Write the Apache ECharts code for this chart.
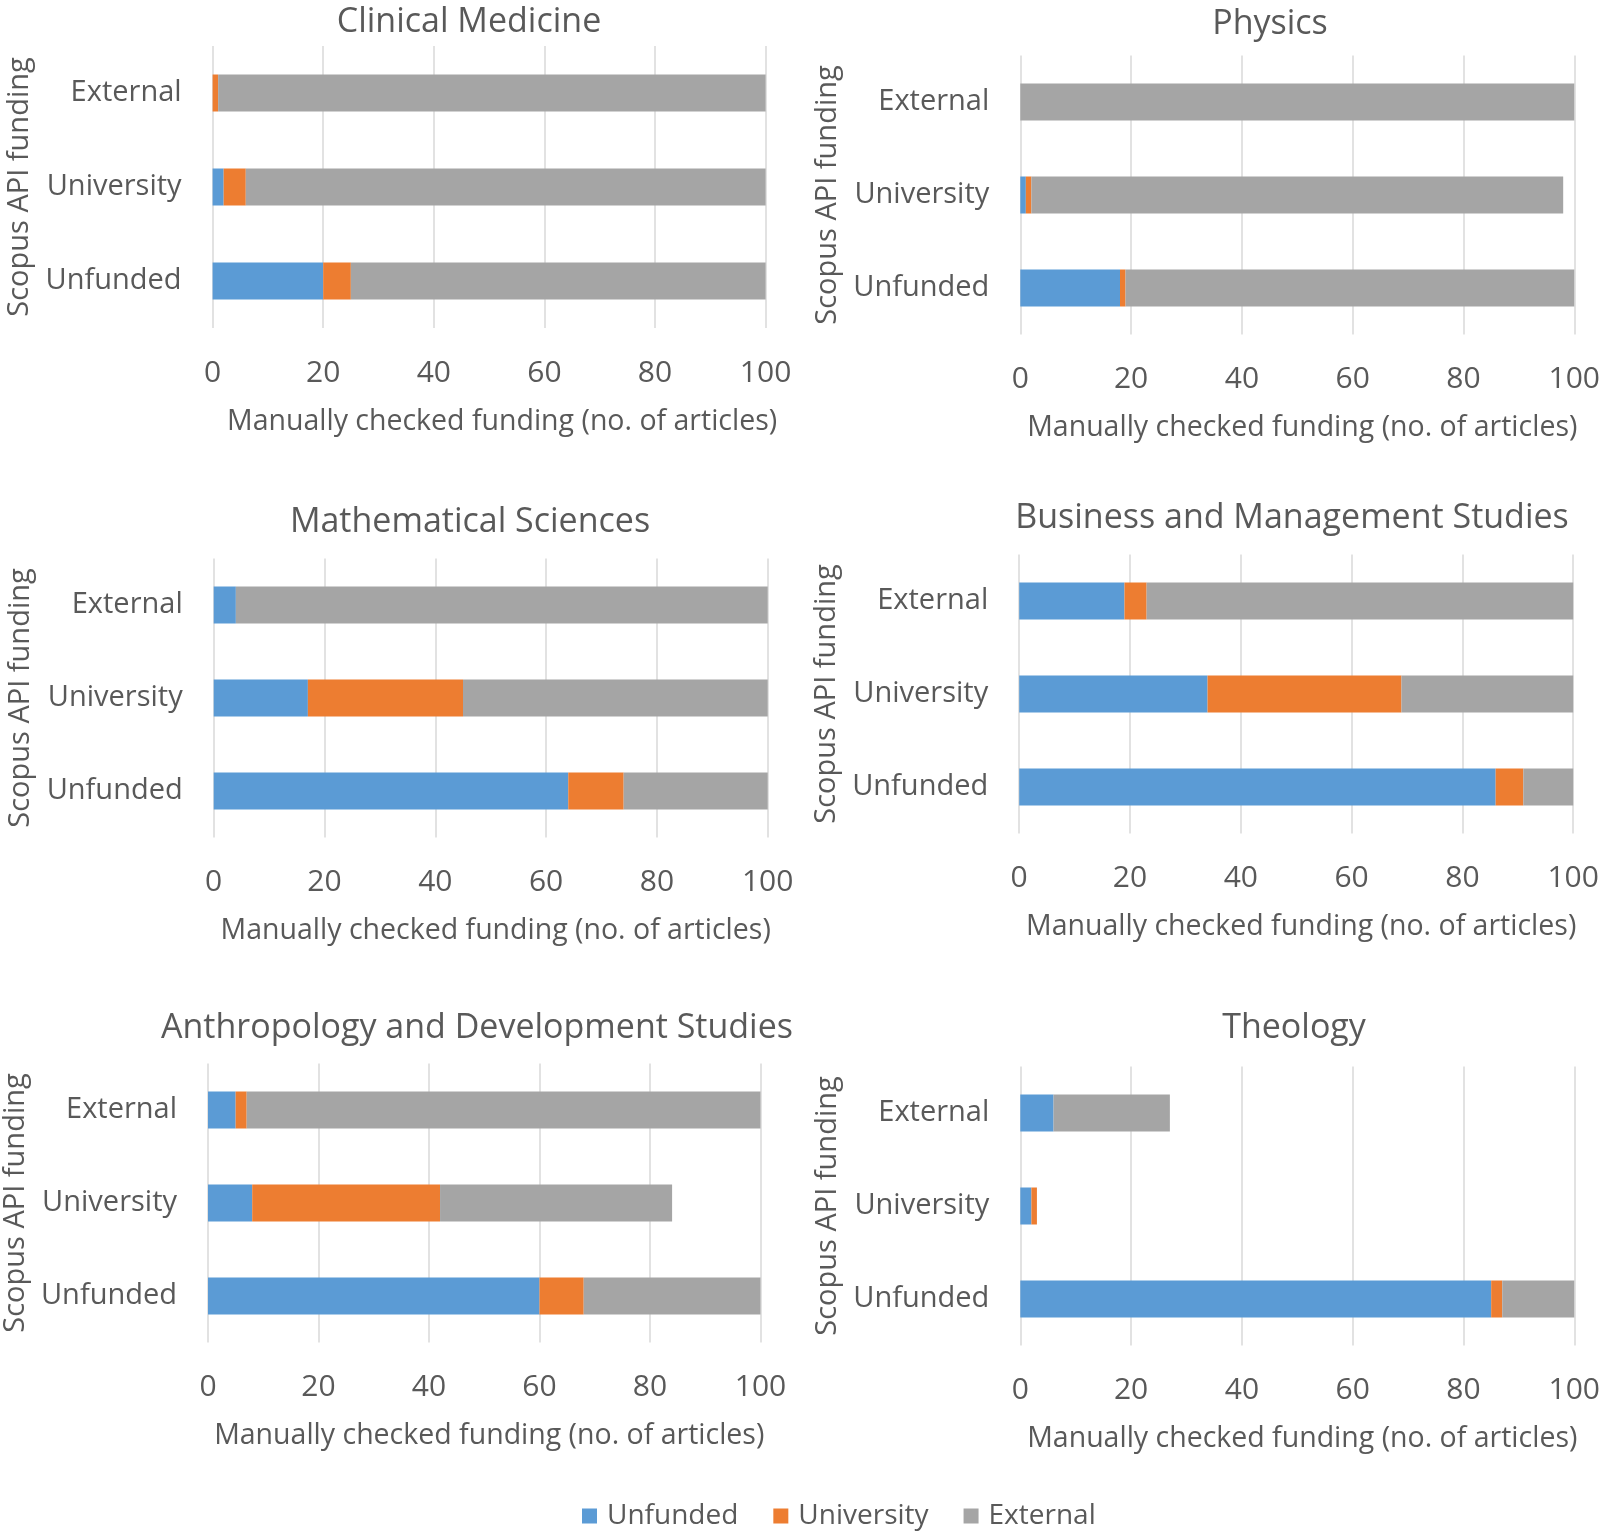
<!DOCTYPE html>
<html><head><meta charset="utf-8">
<script src="https://cdn.jsdelivr.net/npm/echarts@6/dist/echarts.min.js"></script>
<style>html,body{margin:0;padding:0;background:#fff}#c{width:1603px;height:1535px}</style>
</head><body><div id="c"></div>
<script>
// ---- data ----
const categories = ['Unfunded', 'University', 'External'];
const seriesNames = ['Unfunded', 'University', 'External'];
const xTicks = [0, 20, 40, 60, 80, 100];
const panelTitles = ['Clinical Medicine', 'Physics', 'Mathematical Sciences',
  'Business and Management Studies', 'Anthropology and Development Studies', 'Theology'];
const xAxisTitle = 'Manually checked funding (no. of articles)';
const yAxisTitle = 'Scopus API funding';

// values per category: [Unfunded row, University row, External row]
const clinicalUnfunded = [20, 2, 0];
const clinicalUniversity = [5, 4, 1];
const clinicalExternal = [75, 94, 99];

const physicsUnfunded = [18, 1, 0];
const physicsUniversity = [1, 1, 0];
const physicsExternal = [81, 96, 100];

const mathUnfunded = [64, 17, 4];
const mathUniversity = [10, 28, 0];
const mathExternal = [26, 55, 96];

const businessUnfunded = [86, 34, 19];
const businessUniversity = [5, 35, 4];
const businessExternal = [9, 31, 77];

const anthroUnfunded = [60, 8, 5];
const anthroUniversity = [8, 34, 2];
const anthroExternal = [32, 42, 93];

const theologyUnfunded = [85, 2, 6];
const theologyUniversity = [2, 1, 0];
const theologyExternal = [13, 0, 21];

const panelData = [
  [clinicalUnfunded, clinicalUniversity, clinicalExternal],
  [physicsUnfunded, physicsUniversity, physicsExternal],
  [mathUnfunded, mathUniversity, mathExternal],
  [businessUnfunded, businessUniversity, businessExternal],
  [anthroUnfunded, anthroUniversity, anthroExternal],
  [theologyUnfunded, theologyUniversity, theologyExternal]
];

// ---- layout / style ----
const colors = ['#5b9bd5', '#ed7d31', '#a5a5a5'];
const txt = '#595959';
const FONT = '"Open Sans", "Noto Sans", sans-serif';
const layouts = [
  { left: 212.6, width: 553, top: 46, height: 282, tx: 469, ty: 22, nameShift: 26 },
  { left: 1020.3, width: 554, top: 55.5, height: 279, tx: 1270, ty: 24, nameShift: 10 },
  { left: 213.7, width: 554, top: 558.5, height: 279, tx: 470, ty: 522, nameShift: 10 },
  { left: 1019.2, width: 554, top: 554.5, height: 279, tx: 1292, ty: 518, nameShift: 10 },
  { left: 206.5, width: 554, top: 1063.5, height: 279, tx: 477, ty: 1028, nameShift: 10 },
  { left: 1020.3, width: 554, top: 1066.5, height: 279, tx: 1294, ty: 1028, nameShift: 10 }
];

const grid = [], xAxis = [], yAxis = [], series = [], graphic = [];
layouts.forEach((L, i) => {
  grid.push({ left: L.left, top: L.top, width: L.width, height: L.height, containLabel: false });
  xAxis.push({
    type: 'value', gridIndex: i, min: xTicks[0], max: xTicks[xTicks.length - 1],
    interval: xTicks[1] - xTicks[0],
    axisLine: { show: false }, axisTick: { show: false },
    splitLine: { show: true, lineStyle: { color: '#d9d9d9', width: 1.5 } },
    axisLabel: { color: txt, fontSize: 30, fontFamily: FONT, margin: 30 },
    name: xAxisTitle, nameLocation: 'middle', nameGap: 79,
    nameTextStyle: { color: txt, fontSize: 28.5, fontFamily: FONT, padding: [0, 0, 0, L.nameShift] }
  });
  yAxis.push({
    type: 'category', gridIndex: i, data: categories,
    axisLine: { show: false }, axisTick: { show: false },
    axisLabel: { color: txt, fontSize: 29, fontFamily: FONT, margin: 31 },
    name: yAxisTitle, nameLocation: 'middle', nameRotate: 90, nameGap: 178,
    nameTextStyle: { color: txt, fontSize: 29, fontFamily: FONT }
  });
  seriesNames.forEach((nm, k) => {
    series.push({
      type: 'bar', name: nm, stack: 'p' + i, xAxisIndex: i, yAxisIndex: i,
      data: panelData[i][k], barWidth: 37,
      itemStyle: { color: colors[k] }, silent: true
    });
  });
  graphic.push({
    type: 'text', x: L.tx, y: L.ty,
    style: { text: panelTitles[i], font: '34px ' + FONT, fill: txt,
      textAlign: 'center', textVerticalAlign: 'middle', align: 'center', verticalAlign: 'middle' }
  });
});

const chart = echarts.init(document.getElementById('c'), null, { renderer: 'canvas' });
chart.setOption({
  animation: false,
  backgroundColor: '#fff',
  color: colors,
  grid, xAxis, yAxis, series, graphic,
  legend: {
    data: seriesNames, left: 577, top: 1497, icon: 'rect',
    itemWidth: 15, itemHeight: 15, itemGap: 35,
    textStyle: { color: txt, fontSize: 28, fontFamily: FONT, padding: [0, 0, 0, 5] }
  }
});
</script></body></html>
